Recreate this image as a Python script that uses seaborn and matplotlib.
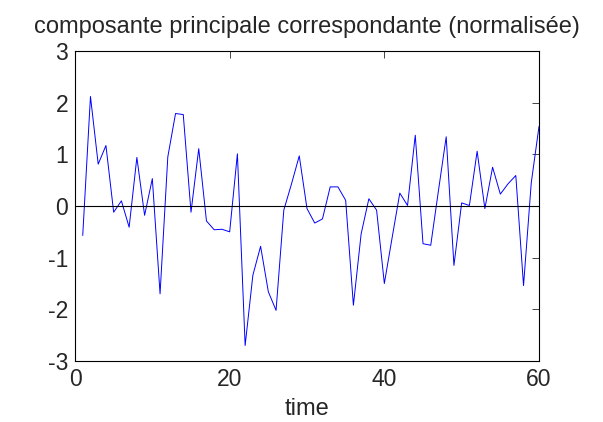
import matplotlib
matplotlib.use("Agg")
import matplotlib.pyplot as plt
import seaborn as sns
import numpy as np
import pandas as pd

time = list(range(1, 61))
values = [-0.57, 2.12, 0.81, 1.17, -0.12, 0.10, -0.41, 0.94, -0.18, 0.53,
          -1.70, 0.95, 1.79, 1.77, -0.12, 1.11, -0.29, -0.46, -0.45, -0.50,
          1.01, -2.70, -1.34, -0.78, -1.66, -2.02, -0.08, 0.43, 0.97, -0.05,
          -0.33, -0.25, 0.37, 0.37, 0.11, -1.92, -0.54, 0.14, -0.08, -1.50,
          -0.62, 0.25, 0.01, 1.37, -0.73, -0.76, 0.30, 1.34, -1.15, 0.06,
          0.01, 1.06, -0.05, 0.75, 0.23, 0.43, 0.59, -1.54, 0.45, 1.54]
xticks = [0, 20, 40, 60]
yticks = [-3, -2, -1, 0, 1, 2, 3]
title = "composante principale correspondante (normalisée)"
xlabel = "time"

df = pd.DataFrame({"time": time, "value": values})

sns.set_style("white")
plt.rcParams['font.family'] = ['Liberation Sans', 'DejaVu Sans']
plt.rcParams['axes.unicode_minus'] = False

fig = plt.figure(figsize=(6.03, 4.22), dpi=100)
ax = fig.add_axes([75/603, 1-361/422, (539-75)/603, (361-51)/422])
sns.lineplot(data=df, x="time", y="value", ax=ax, color=(0, 0, 1), linewidth=0.7)
ax.axhline(0, color="black", linewidth=0.8)
ax.set_xlim(0, 60)
ax.set_ylim(-3, 3)
ax.set_xticks(xticks)
ax.set_yticks(yticks)
ax.tick_params(direction="in", length=5, width=0.6, labelsize=16.5, top=True, right=True, pad=5)
for s in ax.spines.values():
    s.set_linewidth(0.8)
    s.set_color("black")
ax.set_title(title, fontsize=17, pad=13)
ax.set_xlabel(xlabel, fontsize=17, labelpad=5)
ax.set_ylabel("")
fig.savefig("out.png", dpi=100)
